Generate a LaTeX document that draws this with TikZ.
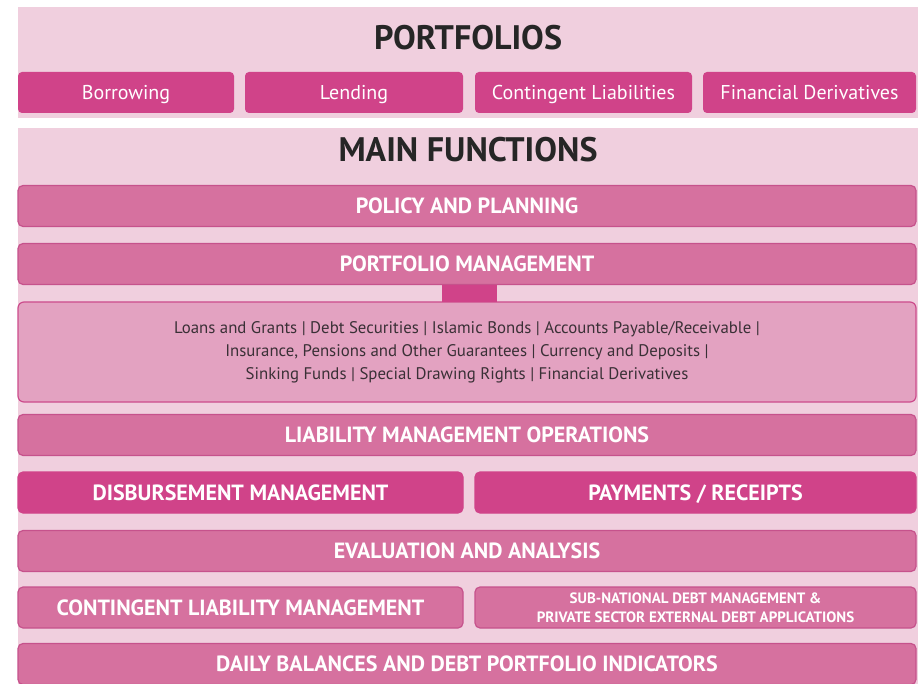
\documentclass[tikz,border=0pt]{standalone}
\usepackage{fontspec}
\setmainfont{PT Sans}
\definecolor{panelbg}{RGB}{240,207,222}
\definecolor{barfill}{RGB}{214,113,159}
\definecolor{barline}{RGB}{198,82,140}
\definecolor{deep}{RGB}{208,67,137}
\definecolor{detailfill}{RGB}{227,162,193}
\definecolor{detailline}{RGB}{204,76,140}
\definecolor{textgray}{RGB}{58,48,54}
\tikzset{
  panel/.style={fill=panelbg, draw=none},
  title/.style={font=\bfseries\fontsize{34}{36}\selectfont, text=black!85,
    inner sep=0pt, text height=23.8pt, text depth=0pt},
  pbox/.style={fill=deep, draw=none, rounded corners=4pt, inner sep=0pt,
    minimum height=41pt, text=white, font=\fontsize{20}{22}\selectfont,
    text height=14pt, text depth=0pt},
  bar/.style={fill=barfill, draw=barline, line width=1.2pt, rounded corners=5pt,
    inner sep=0pt, minimum height=41pt, text=white,
    font=\bfseries\fontsize{22}{24}\selectfont, text height=15.4pt, text depth=0pt},
  deepbar/.style={bar, fill=deep, draw=deep},
  smallbar/.style={bar, align=center, font=\bfseries\fontsize{15}{18.5}\selectfont,
    text height={}, text depth={}},
  detail/.style={fill=detailfill, draw=detailline, line width=1.2pt, rounded corners=6pt,
    inner sep=0pt, minimum width=898pt, minimum height=100pt, align=center,
    text=textgray, font=\fontsize{16.8}{23}\selectfont},
  link/.style={draw=deep, line width=55pt}
}
\begin{document}
\begin{tikzpicture}[x=1pt, y=-1pt]
  \useasboundingbox (0,0) rectangle (918,684);
  \clip (0,0) rectangle (918,684);
  \fill[white] (0,0) rectangle (918,684);

  % panels
  \path[panel] (18,7) rectangle (918,118);
  \path[panel] (18,128) rectangle (918,690);

  % portfolios
  \node[title] (ptitle) at (468,37.5) {PORTFOLIOS};
  \node[pbox, minimum width=216pt] (borrow) at (126,92.5) {Borrowing};
  \node[pbox, minimum width=218pt] (lend) at (354,92.5) {Lending};
  \node[pbox, minimum width=217pt] (contl) at (583.5,92.5) {Contingent Liabilities};
  \node[pbox, minimum width=213pt] (fder) at (809.5,92.5) {Financial Derivatives};

  % main functions
  \node[title] (mtitle) at (468,150) {MAIN FUNCTIONS};
  \node[bar, minimum width=898pt] (policy) at (467,206) {POLICY AND PLANNING};
  \node[bar, minimum width=898pt] (pm) at (467,264) {PORTFOLIO MANAGEMENT};
  \node[detail] (det) at (467,352)
    {Loans and Grants | Debt Securities | Islamic Bonds | Accounts Payable/Receivable |\\
     Insurance, Pensions and Other Guarantees | Currency and Deposits |\\
     Sinking Funds | Special Drawing Rights | Financial Derivatives};
  \draw[link] ([xshift=2.5pt]pm.south) -- ([xshift=2.5pt,yshift=-0.3pt]det.north -| pm.south);

  \node[bar, minimum width=898pt] (lmo) at (467,435) {LIABILITY MANAGEMENT OPERATIONS};
  \node[deepbar, minimum width=445pt] (disb) at (240.5,492.5) {DISBURSEMENT MANAGEMENT};
  \node[deepbar, minimum width=441pt] (pay) at (695.5,492.5) {PAYMENTS / RECEIPTS};
  \node[bar, minimum width=898pt] (eval) at (467,551) {EVALUATION AND ANALYSIS};
  \node[bar, minimum width=445pt] (clm) at (240.5,607.5) {CONTINGENT LIABILITY MANAGEMENT};
  \node[smallbar, minimum width=441pt] (subn) at (695.5,607.5)
    {SUB-NATIONAL DEBT MANAGEMENT \&\\PRIVATE SECTOR EXTERNAL DEBT APPLICATIONS};
  \node[bar, minimum width=898pt] (daily) at (467,664) {DAILY BALANCES AND DEBT PORTFOLIO INDICATORS};
\end{tikzpicture}
\end{document}
